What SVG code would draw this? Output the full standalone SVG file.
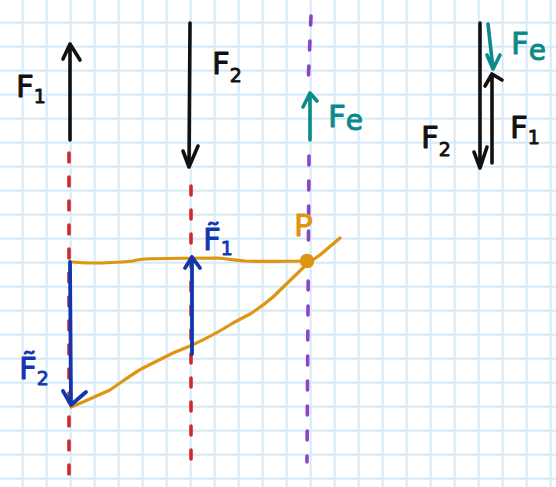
<svg xmlns="http://www.w3.org/2000/svg" width="556" height="487" viewBox="0 0 556 487">
<style>
.ink{fill:none;stroke-linecap:round;stroke-linejoin:round}
.blk{stroke:#111;stroke-width:3.6}
.blu{stroke:#1236b0;stroke-width:3.8}
.tea{stroke:#0b8a8a;stroke-width:3.6}
.org{stroke:#de9610;stroke-width:3.2}
.red{stroke:#cf2b2b;stroke-width:3.6;stroke-dasharray:9 15}
.pur{stroke:#8a44c6;stroke-width:3.6;stroke-dasharray:9 16}
.lbl{font-family:"DejaVu Sans","Liberation Sans",sans-serif;font-size:31px;stroke-width:0.9;stroke-linejoin:round}
.sub{font-size:19px}
</style>
<defs>
<pattern id="grid" x="10.7" y="10.7" width="24" height="24" patternUnits="userSpaceOnUse">
<path d="M12 0V24M0 12H24" stroke="#d6e9f8" stroke-width="2" fill="none"/>
</pattern>
</defs>
<rect width="556" height="487" fill="#fff"/>
<rect width="556" height="487" fill="url(#grid)"/>

<g id="guides">
<path class="ink red" d="M69 153V480"/>
<path class="ink red" d="M191 186L191 462"/>
<path class="ink pur" d="M311 16L308 86"/>
<path class="ink pur" d="M309 156L307 462"/>
</g>

<g id="orange-polygon">
<path class="ink org" d="M73 262C90 264 110 263 133 261C137 260 140 259 145 259C170 258 200 258 217 258C228 259 233 260 245 261C262 262 285 261 307 261"/>
<path class="ink org" d="M71 407L83 402L110 390L120 383C130 376 140 369 147 366L173 353L190 346C210 337 222 330 233 323L250 314C258 309 266 303 273 297L307 264L320 255L340 238"/>
<circle id="P-point" cx="307" cy="261" r="6" fill="#de9610" stroke="#de9610" stroke-width="2.5"/>
</g>

<g id="F1">
<path class="ink blk" d="M70 140V44M63 59L70 44L80 60"/>
<text class="lbl" x="16" y="97" fill="#111" stroke="#111">F<tspan class="sub" dy="6">1</tspan></text>
</g>

<g id="F2">
<path class="ink blk" d="M190 23L189 167M183 151L189 167L198 146"/>
<text class="lbl" x="212" y="74" fill="#111" stroke="#111">F<tspan class="sub" dy="8">2</tspan></text>
</g>

<g id="Fe">
<path class="ink tea" d="M310 140V93M303 107L310 93L317 101"/>
<text class="lbl" x="328" y="127" fill="#0b8a8a" stroke="#0b8a8a">F<tspan dy="3" font-size="28">e</tspan></text>
</g>

<g id="sum-F2">
<path class="ink blk" d="M480 23L480 168M474 152L480 168L487 147"/>
<text class="lbl" x="421" y="148" fill="#111" stroke="#111">F<tspan class="sub" dy="8">2</tspan></text>
</g>
<g id="sum-F1">
<path class="ink blk" d="M492 163L492 74M485 86L492 74L502 80"/>
<text class="lbl" x="510" y="138" fill="#111" stroke="#111">F<tspan class="sub" dy="6">1</tspan></text>
</g>
<g id="sum-Fe">
<path class="ink tea" d="M488 24L493 69M487 55L493 69L500 55"/>
<text class="lbl" x="511" y="54" fill="#0b8a8a" stroke="#0b8a8a">F<tspan dy="6" font-size="28">e</tspan></text>
</g>

<g id="Ft2">
<path class="ink blu" d="M70 262L71 405M63 391L71 405L86 392"/>
<text class="lbl" x="19" y="379" fill="#1236b0" stroke="#1236b0">F̃<tspan class="sub" dy="6">2</tspan></text>
</g>

<g id="Ft1">
<path class="ink blu" d="M192 354L192 257M185 268L192 257L200 268"/>
<text class="lbl" x="203" y="250" fill="#1236b0" stroke="#1236b0">F̃<tspan class="sub" dy="5">1</tspan></text>
</g>

<g id="P-label">
<text class="lbl" x="294" y="236" fill="#de9610" stroke="#de9610">P</text>
</g>
</svg>
